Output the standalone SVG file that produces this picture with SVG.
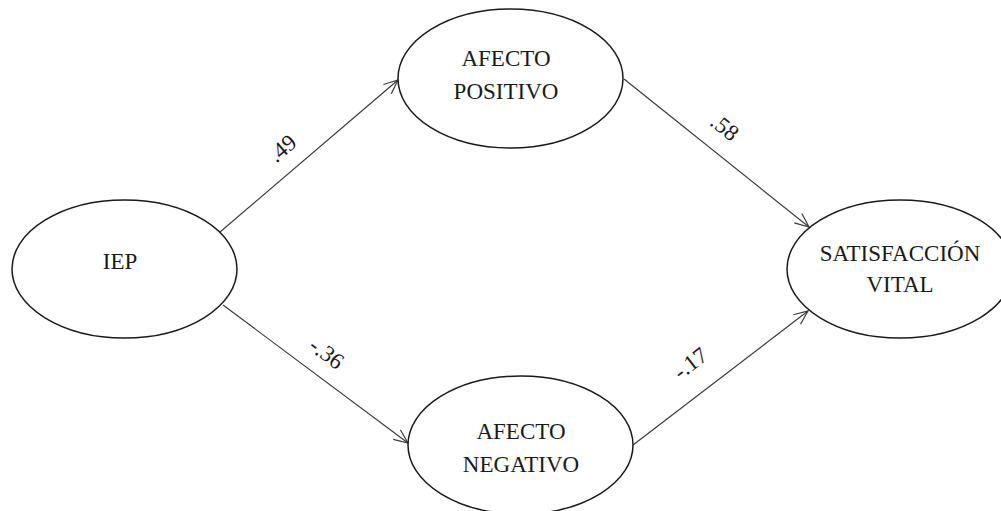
<svg xmlns="http://www.w3.org/2000/svg" width="1001" height="511" viewBox="0 0 1001 511">
  <style>
    .node ellipse { fill: #ffffff; stroke: #1a1a1a; stroke-width: 1.5; }
    .node text { font-family: "Liberation Serif", "Times New Roman", serif; font-size: 23px; fill: #1a1a1a; text-anchor: middle; }
    .edges line { stroke: #3a3a3a; stroke-width: 1.2; }
    .coef { font-family: "Liberation Serif", "Times New Roman", serif; font-size: 23px; fill: #1a1a1a; text-anchor: middle; }
  </style>
  <defs>
    <marker id="arrow" markerUnits="userSpaceOnUse" markerWidth="20" markerHeight="20" refX="0" refY="0" viewBox="-16 -10 20 20" orient="auto">
      <path d="M -14 -6 L 0 0 L -14 6" fill="none" stroke="#3a3a3a" stroke-width="1.2"/>
    </marker>
  </defs>
  <rect width="1001" height="511" fill="#ffffff"/>

  <!-- paths between constructs -->
  <g class="edges">
    <line x1="220" y1="232" x2="398" y2="80" marker-end="url(#arrow)"/>
    <line x1="624" y1="79" x2="809" y2="227" marker-end="url(#arrow)"/>
    <line x1="223" y1="305" x2="408" y2="443" marker-end="url(#arrow)"/>
    <line x1="633" y1="445" x2="808" y2="311" marker-end="url(#arrow)"/>
  </g>

  <!-- path coefficients -->
  <g id="coefficients">
    <text class="coef" transform="translate(282 148) rotate(-40.5)" dy="8">.49</text>
    <text class="coef" transform="translate(725 127) rotate(38.7)" dy="8">.58</text>
    <text class="coef" transform="translate(327 353) rotate(36.6)" dy="8">-.36</text>
    <text class="coef" transform="translate(690 363) rotate(-37.5)" dy="8">-.17</text>
  </g>

  <g id="iep" class="node">
    <ellipse cx="124.5" cy="269" rx="112.5" ry="69"/>
    <text x="120" y="269">IEP</text>
  </g>

  <g id="afecto-positivo" class="node">
    <ellipse cx="510.5" cy="78.5" rx="112.5" ry="69.5"/>
    <text x="506" y="66">AFECTO</text>
    <text x="506" y="99">POSITIVO</text>
  </g>

  <g id="afecto-negativo" class="node">
    <ellipse cx="520.5" cy="445" rx="112.5" ry="69"/>
    <text x="521" y="439">AFECTO</text>
    <text x="521" y="472">NEGATIVO</text>
  </g>

  <g id="satisfaccion-vital" class="node">
    <ellipse cx="900" cy="269" rx="113" ry="69"/>
    <text x="900" y="261">SATISFACCIÓN</text>
    <text x="900" y="292">VITAL</text>
  </g>
</svg>
